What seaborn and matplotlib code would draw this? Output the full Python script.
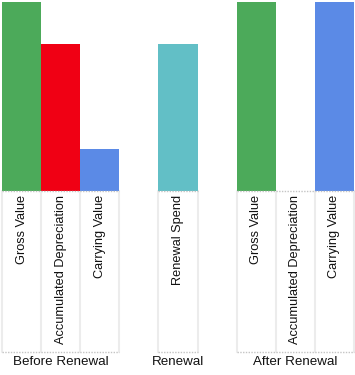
import matplotlib
matplotlib.use("Agg")
import matplotlib.pyplot as plt
import matplotlib.transforms as mtrans
import seaborn as sns
import pandas as pd

groups = ["Before Renewal", "Renewal", "After Renewal"]
group_categories = [
    ["Gross Value", "Accumulated Depreciation", "Carrying Value"],
    ["Renewal Spend"],
    ["Gross Value", "Accumulated Depreciation", "Carrying Value"],
]
group_values = [
    [900, 700, 200],
    [700],
    [900, 0, 900],
]
palette = {
    "Gross Value": "#4caa5a",
    "Accumulated Depreciation": "#f00014",
    "Carrying Value": "#5b8ae6",
    "Renewal Spend": "#62bfc6",
}

sns.set_theme(style="white")
plt.rcParams["font.family"] = ["Liberation Sans", "DejaVu Sans"]

# build slot layout: one empty slot between groups
rows = []
group_spans = []
slot = 0
for g, cats, vals in zip(groups, group_categories, group_values):
    start = slot
    for c, v in zip(cats, vals):
        rows.append({"slot": slot, "category": c, "value": v, "group": g})
        slot += 1
    group_spans.append((g, start, slot - 1))
    slot += 1
df = pd.DataFrame(rows)

fig = plt.figure(figsize=(3.55, 3.75), dpi=100)
ax = fig.add_axes([2 / 355, 1 - 191 / 375, 352 / 355, 189 / 375])
sns.barplot(data=df, x="slot", y="value", hue="category", palette=palette,
            native_scale=True, width=1.0, dodge=False, legend=False,
            saturation=1, ax=ax, linewidth=0)
ax.set_xlim(-0.5, df["slot"].max() + 0.5)
ax.set_ylim(0, max(max(v) for v in group_values))
for s in ax.spines.values():
    s.set_visible(False)
ax.set_yticks([])
ax.set_xticks(df["slot"])
ax.set_xticklabels(df["category"], rotation=90, fontsize=9.2, color="#111111")
ax.tick_params(axis="x", length=0, pad=3)
ax.set_xlabel("")
ax.set_ylabel("")

trans = mtrans.blended_transform_factory(ax.transData, ax.transAxes)
bottom = -(352 - 191) / 189
for g, a, b in group_spans:
    for x in range(a, b + 2):
        ax.plot([x - 0.5, x - 0.5], [0, bottom], transform=trans, color="#ececec",
                lw=1.5, clip_on=False, zorder=0)
    for y in (0, bottom):
        ax.plot([a - 0.5, b + 0.5], [y, y], transform=trans, color="#c4c4c4",
                lw=1, ls=(0, (1, 1)), clip_on=False, zorder=3)
    ax.text((a + b) / 2, -(362 - 191) / 189, g, transform=trans, ha="center",
            va="center", fontsize=9.6, color="#111111")

fig.savefig("out.png", dpi=100)
